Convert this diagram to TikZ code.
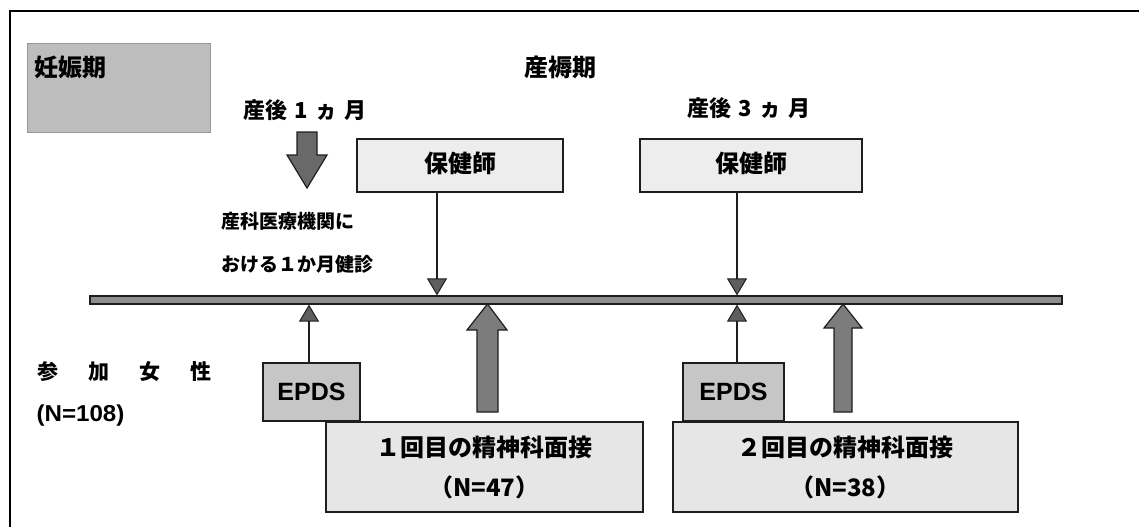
\documentclass[tikz,border=0pt]{standalone}
\usepackage{fontspec}
\newfontfamily\jp{Noto Sans CJK JP}
\newfontfamily\lat{Liberation Sans}
\usetikzlibrary{arrows.meta}
\definecolor{darkgraybox}{HTML}{BDBDBD}
\definecolor{epdsgray}{HTML}{C6C6C6}
\definecolor{lightbox}{HTML}{EDEDED}
\definecolor{bigbox}{HTML}{E6E6E6}
\definecolor{barfill}{HTML}{8E8E8E}
\definecolor{bigarrow}{HTML}{7C7C7C}
\definecolor{edge}{HTML}{1E1E1E}
\definecolor{headfill}{HTML}{5E5E5E}
\tikzset{
  box/.style={draw=edge, line width=1.2pt, inner sep=0pt, anchor=center},
  jpbig/.style={font=\jp\bfseries\fontsize{24}{28}\selectfont, text=black},
  jpmid/.style={font=\jp\bfseries\fontsize{22}{26}\selectfont, text=black},
  jpsmall/.style={font=\jp\bfseries\fontsize{19}{22}\selectfont, text=black},
  thinarrow/.style={draw=edge, line width=2.4pt,
     -{Triangle[width=20pt,length=17pt,line width=1pt,fill=headfill]}},
  fatarrow/.style={draw=edge, line width=1.2pt, fill=bigarrow},
}
\begin{document}
\begin{tikzpicture}[x=1pt,y=-1pt]
\useasboundingbox (0,0) rectangle (1139,527);
% frame
\draw[line width=2pt, black] (10,527) -- (10,11) -- (1139,11);

% pregnancy period box
\node[box, draw=darkgraybox!80!black, line width=0.6pt, fill=darkgraybox, minimum width=183pt, minimum height=89pt] (preg) at (118.5,87.5) {};
\node[jpbig, anchor=west] (pregt) at (31,67) {妊娠期};

% headers
\node[jpbig] (puer) at (560,67) {産褥期};
\node[jpmid] (m1) at (305,110) {産後\hspace{7pt}1\hspace{7pt}ヵ\hspace{7pt}月};
\node[jpmid] (m3) at (749,108) {産後\hspace{7pt}3\hspace{7pt}ヵ\hspace{7pt}月};

% thick down arrow (1 month)
\draw[fatarrow, fill=bigarrow!85!black] (297,132) -- (317,132) -- (317,155) -- (327,155) -- (307,188) -- (287,155) -- (297,155) -- cycle;

% hospital text
\node[jpsmall, anchor=west] (hosp1) at (218,221) {産科医療機関に};
\node[jpsmall, anchor=west] (hosp2) at (218,264) {おける１か月健診};

% public health nurse boxes
\node[box, fill=lightbox, minimum width=206pt, minimum height=53pt] (hn1) at (460,165.5) {};
\node[jpbig] (hn1t) at (460,163) {保健師};
\node[box, fill=lightbox, minimum width=222pt, minimum height=53pt] (hn2) at (751,165.5) {};
\node[jpbig] (hn2t) at (751,163) {保健師};

% timeline bar
\node[box, draw=edge, line width=1.2pt, fill=barfill, minimum width=972pt, minimum height=8pt] (bar) at (576,300) {};

% participants
\node[font=\jp\bfseries\fontsize{21}{24}\selectfont, anchor=west] (part) at (34,372) {参\hspace{30pt}加\hspace{30pt}女\hspace{30pt}性};
\node[font=\lat\bfseries\fontsize{23}{26}\selectfont, anchor=west] (partn) at (33,416) {\scalebox{1.05}[1]{(N=108)}};

% EPDS boxes
\node[box, fill=epdsgray, minimum width=97pt, minimum height=58pt, font=\lat\bfseries\fontsize{25}{28}\selectfont] (e1) at (311.5,392) {EPDS};
\node[box, fill=epdsgray, minimum width=101pt, minimum height=58pt, font=\lat\bfseries\fontsize{25}{28}\selectfont] (e2) at (733.5,392) {EPDS};

% interview boxes
\node[box, fill=bigbox, minimum width=317pt, minimum height=90pt, jpbig, align=center] (iv1) at (484.5,467) {１回目の精神科面接\\[12pt]（N=47）};
\node[box, fill=bigbox, minimum width=345pt, minimum height=90pt, jpbig, align=center] (iv2) at (845.5,467) {２回目の精神科面接\\[12pt]（N=38）};

% x positions for connectors
\coordinate (xa) at (437,0);
\coordinate (xb) at (737,0);
\coordinate (xc) at (309,0);

% thin arrows
\draw[thinarrow] (hn1.south -| xa) -- (bar.north -| xa);
\draw[thinarrow] (hn2.south -| xb) -- (bar.north -| xb);
\draw[thinarrow] (e1.north -| xc) -- (bar.south -| xc);
\draw[thinarrow] (e2.north -| xb) -- (bar.south -| xb);

% fat up arrows
\draw[fatarrow] (477,412) -- (498,412) -- (498,330) -- (507,330) -- (487.5,304) -- (467,330) -- (477,330) -- cycle;
\draw[fatarrow] (834,412) -- (852,412) -- (852,328) -- (862,328) -- (843,304) -- (824,328) -- (834,328) -- cycle;
\end{tikzpicture}
\end{document}
